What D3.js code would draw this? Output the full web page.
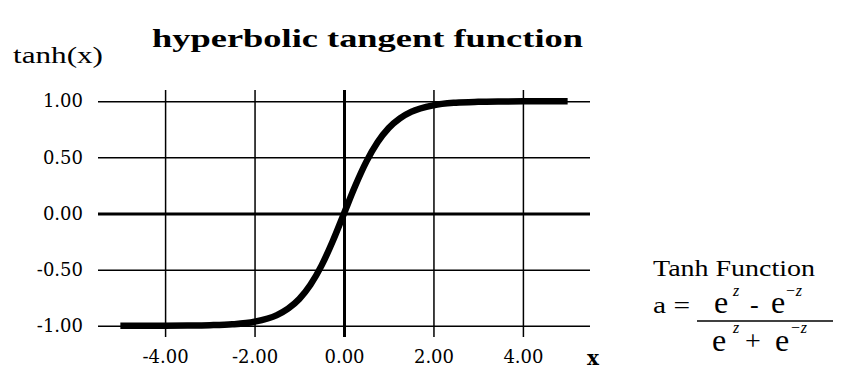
<!DOCTYPE html>
<html>
<head>
<meta charset="utf-8">
<script src="https://cdn.jsdelivr.net/npm/d3@7"></script>
<style>
  body { margin: 0; background: #fff; }
  svg { display: block; }
  .tick text { font-family: "DejaVu Serif", serif; font-size: 18px; fill: #000; }
  .sup { font-size: 16px; font-style: italic; }
</style>
</head>
<body>
<svg width="846" height="375"></svg>
<script>
// data
var xValues = [-5, -4.5, -4, -3.5, -3, -2.5, -2, -1.5, -1.25, -1, -0.75, -0.5, -0.25, 0,
               0.25, 0.5, 0.75, 1, 1.25, 1.5, 2, 2.5, 3, 3.5, 4, 4.5, 5];
var tanhValues = [-1.00, -1.00, -0.999, -0.998, -0.995, -0.987, -0.964, -0.905, -0.848, -0.762, -0.635, -0.462, -0.245, 0.00,
                  0.245, 0.462, 0.635, 0.762, 0.848, 0.905, 0.964, 0.987, 0.995, 0.998, 0.999, 1.00, 1.00];
var xTicks = [-4, -2, 0, 2, 4];
var yTicks = [-1, -0.5, 0, 0.5, 1];

var svg = d3.select("svg");

// plot box
var plotLeft = 98, plotRight = 590, plotTop = 90, plotBottom = 337;

var xScale = d3.scaleLinear().domain([-5.5, 5.5]).range([plotLeft, plotRight]);
var yScale = d3.scaleLinear().domain([-1.1, 1.1]).range([plotBottom, plotTop]);

// plain hyphen for negatives, like the original
var fmt = d3.formatLocale({decimal: ".", thousands: ",", grouping: [3], currency: ["", ""], minus: "-"}).format(".2f");

// horizontal grid + y labels
var yAxis = svg.append("g")
    .attr("transform", "translate(" + plotLeft + ",0)")
    .call(d3.axisLeft(yScale)
        .tickValues(yTicks)
        .tickSize(-(plotRight - plotLeft))
        .tickPadding(15)
        .tickFormat(fmt));
yAxis.select(".domain").remove();
yAxis.selectAll(".tick line")
    .attr("stroke", "#000")
    .attr("stroke-width", function(d) { return d === 0 ? 3 : 1.5; });

// vertical grid + x labels
var xAxis = svg.append("g")
    .attr("transform", "translate(0," + plotBottom + ")")
    .call(d3.axisBottom(xScale)
        .tickValues(xTicks)
        .tickSize(-(plotBottom - plotTop))
        .tickPadding(13)
        .tickFormat(fmt));
xAxis.select(".domain").remove();
xAxis.selectAll(".tick line")
    .attr("stroke", "#000")
    .attr("stroke-width", function(d) { return d === 0 ? 3 : 1.5; });

// the curve
var points = xValues.map(function(x, i) { return [x, tanhValues[i]]; });
var line = d3.line()
    .x(function(d) { return xScale(d[0]); })
    .y(function(d) { return yScale(d[1]); })
    .curve(d3.curveMonotoneX);

svg.append("path")
    .datum(points)
    .attr("d", line)
    .attr("fill", "none")
    .attr("stroke", "#000")
    .attr("stroke-width", 6.5)
    .attr("stroke-linecap", "butt");

// titles
svg.append("text")
    .attr("x", 152)
    .attr("y", 47)
    .attr("textLength", 431)
    .attr("lengthAdjust", "spacingAndGlyphs")
    .style("font-family", "'Liberation Serif', serif")
    .style("font-weight", "bold")
    .style("font-size", "25px")
    .text("hyperbolic tangent function");

svg.append("text")
    .attr("x", 13)
    .attr("y", 63)
    .attr("textLength", 90)
    .attr("lengthAdjust", "spacingAndGlyphs")
    .style("font-family", "'Liberation Serif', serif")
    .style("font-size", "23px")
    .text("tanh(x)");

svg.append("text")
    .attr("x", 587)
    .attr("y", 365)
    .style("font-family", "'DejaVu Serif', serif")
    .style("font-weight", "bold")
    .style("font-size", "20px")
    .text("x");

// formula box
var f = svg.append("g")
    .style("font-family", "'Liberation Serif', serif")
    .attr("fill", "#000");

f.append("text")
    .attr("x", 653).attr("y", 276)
    .attr("textLength", 162)
    .attr("lengthAdjust", "spacingAndGlyphs")
    .style("font-size", "24px")
    .text("Tanh Function");

f.append("text")
    .attr("x", 653).attr("y", 313)
    .attr("textLength", 37)
    .attr("lengthAdjust", "spacingAndGlyphs")
    .style("font-size", "24px")
    .text("a =");

// numerator: e^z - e^-z
var num = f.append("text").attr("x", 714).attr("y", 313).style("font-size", "32px");
num.append("tspan").text("e");
num.append("tspan").attr("class", "sup").attr("x", 733).attr("dy", -17).text("z");
num.append("tspan").attr("x", 750).attr("dy", 17).style("font-size", "26px").text("-");
num.append("tspan").attr("x", 771).text("e");
num.append("tspan").attr("class", "sup").attr("x", 785).attr("dy", -17).text("\u2212z");

f.append("line")
    .attr("x1", 697).attr("x2", 833)
    .attr("y1", 321).attr("y2", 321)
    .attr("stroke", "#000")
    .attr("stroke-width", 1.5);

// denominator: e^z + e^-z
var den = f.append("text").attr("x", 712).attr("y", 351).style("font-size", "32px");
den.append("tspan").text("e");
den.append("tspan").attr("class", "sup").attr("x", 733).attr("dy", -18).text("z");
den.append("tspan").attr("x", 745).attr("dy", 17).style("font-size", "28px").text("+");
den.append("tspan").attr("x", 775).attr("dy", 1).text("e");
den.append("tspan").attr("class", "sup").attr("x", 790).attr("dy", -18).text("\u2212z");
</script>
</body>
</html>
